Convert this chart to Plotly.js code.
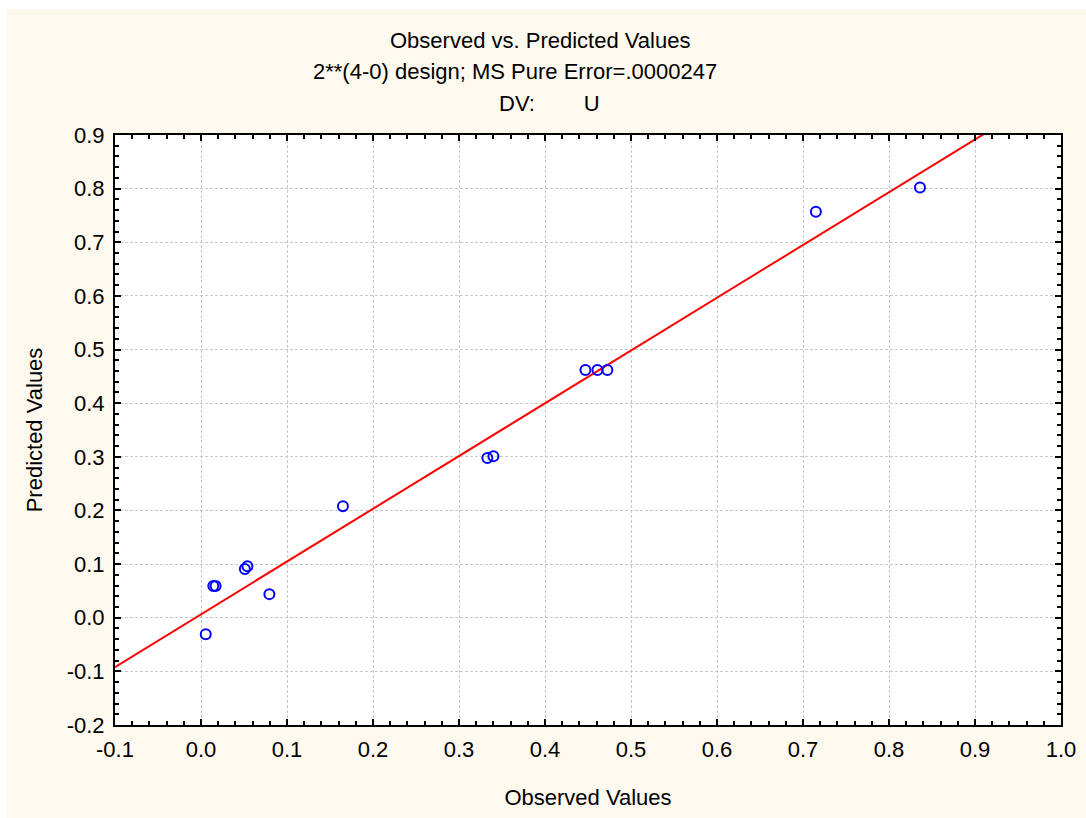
<!DOCTYPE html>
<html>
<head>
<meta charset="utf-8">
<script src="https://cdn.plot.ly/plotly-3.0.1.min.js"></script>
<style>
html,body{margin:0;padding:0;background:#fdf9ef;overflow:hidden;width:1086px;height:818px;}
#chart{position:absolute;left:7px;top:9px;width:1079px;height:809px;}
.strip{position:absolute;background:#ffffff;}
</style>
</head>
<body>
<div class="strip" style="left:0;top:0;width:1086px;height:9px;"></div>
<div class="strip" style="left:0;top:0;width:7px;height:818px;"></div>
<div id="chart"></div>
<script>
// Observed vs predicted values
const observed  = [0.0055, 0.0143, 0.017, 0.051, 0.054, 0.0795, 0.165, 0.333, 0.340, 0.447, 0.461, 0.4725, 0.715, 0.836];
const predicted = [-0.031, 0.059, 0.059, 0.091, 0.096, 0.044, 0.208, 0.298, 0.301, 0.462, 0.462, 0.462, 0.757, 0.802];
// Fitted line end points
const fitX = [-0.1, 1.0];
const fitY = [-0.092, 0.990];
// Tick labels
const xTickVals = [-0.1, 0.0, 0.1, 0.2, 0.3, 0.4, 0.5, 0.6, 0.7, 0.8, 0.9, 1.0];
const xTickText = ["-0.1", "0.0", "0.1", "0.2", "0.3", "0.4", "0.5", "0.6", "0.7", "0.8", "0.9", "1.0"];
const yTickVals = [-0.2, -0.1, 0.0, 0.1, 0.2, 0.3, 0.4, 0.5, 0.6, 0.7, 0.8, 0.9];
const yTickText = ["-0.2", "-0.1", "0.0", "0.1", "0.2", "0.3", "0.4", "0.5", "0.6", "0.7", "0.8", "0.9"];
const titleLines = ["Observed vs. Predicted Values", "2**(4-0) design; MS Pure Error=.0000247", "DV:\u00a0\u00a0\u00a0\u00a0\u00a0\u00a0\u00a0\u00a0U"];
const xTitle = "Observed Values";
const yTitle = "Predicted Values";

const font = {family: "Liberation Sans, Arial, sans-serif", size: 22, color: "#000000"};

const traces = [
  {x: fitX, y: fitY, mode: "lines", line: {color: "#ff0000", width: 2}, hoverinfo: "skip"},
  {x: observed, y: predicted, mode: "markers",
   marker: {symbol: "circle-open", size: 10, color: "#0000ff", line: {width: 2, color: "#0000ff"}}}
];

const axisCommon = {
  showline: true, linecolor: "#000000", linewidth: 2, mirror: "allticks",
  ticks: "inside", ticklen: 6, tickwidth: 2, tickcolor: "#000000",
  showgrid: true, gridcolor: "#c8c8c8", gridwidth: 1, griddash: "3px,2px",
  zeroline: false, tickmode: "array",
  tickfont: font,
  minor: {ticks: "inside", ticklen: 4, tickwidth: 2, tickcolor: "#000000", dtick: 0.02, tick0: 0, showgrid: false}
};

const layout = {
  width: 1079, height: 809,
  paper_bgcolor: "#fdf9ef", plot_bgcolor: "#ffffff",
  margin: {l: 108, r: 25, t: 126, b: 93},
  showlegend: false,
  font: font,
  xaxis: Object.assign({}, axisCommon, {range: [-0.1, 1.0], tickvals: xTickVals, ticktext: xTickText,
    ticklabelstandoff: 4,
    title: {text: xTitle, font: font, standoff: 28}}),
  yaxis: Object.assign({}, axisCommon, {range: [-0.2, 0.9], tickvals: yTickVals, ticktext: yTickText,
    ticklabelstandoff: 4,
    title: {text: yTitle, font: font, standoff: 18}}),
  annotations: [
    {text: titleLines[0], xref: "paper", yref: "paper", x: 0.4493, y: 1.161, xanchor: "center", yanchor: "middle", showarrow: false, font: font},
    {text: titleLines[1], xref: "paper", yref: "paper", x: 0.4228, y: 1.1068, xanchor: "center", yanchor: "middle", showarrow: false, font: font},
    {text: titleLines[2], xref: "paper", yref: "paper", x: 0.4588, y: 1.0542, xanchor: "center", yanchor: "middle", showarrow: false, font: font}
  ]
};

Plotly.newPlot("chart", traces, layout, {displayModeBar: false, staticPlot: true});
</script>
</body>
</html>
